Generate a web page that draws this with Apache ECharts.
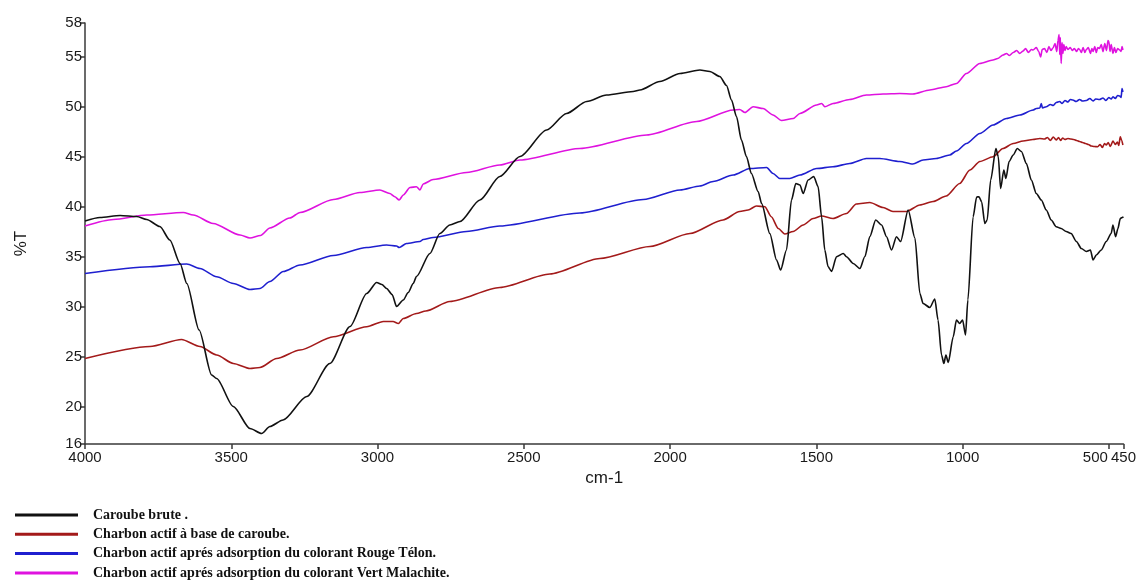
<!DOCTYPE html>
<html>
<head>
<meta charset="utf-8">
<title>Spectres IR</title>
<script src="https://cdn.jsdelivr.net/npm/echarts@6/dist/echarts.min.js"></script>
<style>
  html, body { margin: 0; padding: 0; background: #fff; }
  #chart { width: 1139px; height: 582px; }
</style>
</head>
<body>
<div id="chart"></div>
<script>
// Wavenumber (cm-1) / transmittance (%T) pairs for each sample
const seriesNames = [
  'Caroube brute .',
  'Charbon actif à base de caroube.',
  'Charbon actif aprés adsorption du colorant Rouge Télon.',
  'Charbon actif aprés adsorption du colorant Vert Malachite.'
];
const seriesColors = ['#111111', '#a31a1a', '#1f1fcf', '#df12df'];

const caroubeBrute = [
  [4000, 38.55], [3949, 38.9], [3880, 39.1], [3823, 39.0], [3789, 38.7], [3744, 38.0],
  [3710, 36.65], [3675, 34.3], [3652, 32.3], [3610, 27.65], [3567, 23.15], [3550, 22.8],
  [3493, 20.0], [3436, 17.8], [3396, 17.3], [3368, 18.0], [3323, 18.65], [3242, 21.0],
  [3163, 24.3], [3094, 28.0], [3037, 31.3], [3003, 32.4], [2985, 32.2], [2969, 31.8],
  [2950, 31.2], [2935, 30.0], [2912, 30.65], [2895, 31.4], [2878, 32.3], [2867, 33.0],
  [2821, 35.3], [2787, 37.3], [2753, 38.15], [2718, 38.5], [2650, 40.65], [2582, 43.0],
  [2513, 45.0], [2422, 47.65], [2354, 49.3], [2285, 50.5], [2217, 51.15], [2126, 51.5],
  [2103, 51.65], [2035, 52.5], [1966, 53.3], [1898, 53.65], [1864, 53.5], [1830, 53.0],
  [1807, 52.1], [1790, 50.65], [1773, 49.0], [1756, 46.65], [1739, 45.0], [1722, 43.3],
  [1699, 41.5], [1687, 40.3], [1659, 37.3], [1636, 34.65], [1622, 33.65], [1602, 35.65],
  [1585, 40.65], [1570, 42.3], [1556, 42.15], [1545, 41.3], [1528, 42.65], [1509, 43.0],
  [1494, 42.0], [1482, 38.98], [1471, 35.65], [1460, 34.0], [1448, 33.5], [1431, 34.98],
  [1408, 35.3], [1397, 34.98], [1374, 34.3], [1351, 33.8], [1334, 35.0], [1317, 37.0],
  [1297, 38.65], [1277, 38.15], [1260, 36.98], [1243, 35.65], [1226, 36.98], [1212, 36.5],
  [1186, 39.65], [1163, 36.85], [1146, 31.3], [1135, 30.3], [1112, 29.9], [1095, 30.75],
  [1084, 28.65], [1072, 25.15], [1064, 24.3], [1057, 25.15], [1049, 24.4], [1032, 26.98],
  [1021, 28.65], [1010, 28.3], [1000, 28.65], [990, 27.15], [982, 30.65], [964, 38.98],
  [952, 40.95], [944, 40.98], [935, 40.48], [924, 38.3], [916, 38.65], [904, 42.65],
  [886, 45.8], [878, 44.98], [870, 41.8], [859, 43.65], [852, 42.8], [841, 44.5],
  [827, 45.15], [813, 45.8], [799, 45.5], [782, 44.3], [765, 42.65], [748, 41.3],
  [731, 40.65], [714, 39.65], [697, 38.65], [680, 37.98], [663, 37.8], [646, 37.5],
  [629, 37.3], [611, 36.5], [594, 35.8], [577, 35.5], [563, 35.65], [554, 34.65],
  [543, 35.15], [526, 35.65], [509, 36.5], [492, 37.3], [486, 38.15], [477, 36.98],
  [469, 37.8], [461, 38.8], [455, 38.9], [450, 38.95]
];

const charbonActif = [
  [4000, 24.8], [3778, 26.0], [3670, 26.7], [3607, 26.0], [3550, 25.15], [3493, 24.3],
  [3436, 23.8], [3402, 23.9], [3345, 24.8], [3265, 25.65], [3151, 26.98], [3037, 27.98],
  [2980, 28.5], [2947, 28.5], [2929, 28.3], [2912, 28.8], [2867, 29.3], [2835, 29.55],
  [2753, 30.5], [2582, 31.9], [2411, 33.25], [2240, 34.8], [2069, 36.0], [1932, 37.3],
  [1819, 38.65], [1762, 39.5], [1733, 39.65], [1705, 40.05], [1676, 39.98], [1654, 38.98],
  [1630, 37.8], [1608, 37.25], [1579, 37.5], [1545, 38.15], [1511, 38.8], [1482, 39.05],
  [1443, 38.8], [1397, 39.3], [1363, 40.25], [1317, 40.4], [1272, 39.9], [1238, 39.5],
  [1192, 39.5], [1146, 40.15], [1101, 40.5], [1056, 41.05], [1010, 42.3], [975, 43.65],
  [941, 44.5], [896, 44.98], [862, 45.8], [827, 46.3], [793, 46.55], [760, 46.7],
  [736, 46.8], [720, 46.75], [710, 46.9], [700, 46.6], [690, 46.95], [680, 46.65],
  [672, 46.9], [665, 46.6], [658, 46.85], [650, 46.7], [640, 46.8], [630, 46.75],
  [620, 46.7], [610, 46.6], [600, 46.5], [590, 46.4], [580, 46.3], [570, 46.2],
  [560, 46.05], [550, 46.0], [538, 45.98], [530, 46.2], [522, 45.9], [515, 46.3],
  [509, 46.15], [502, 46.4], [495, 46.0], [486, 46.55], [478, 46.2], [471, 46.45],
  [466, 46.1], [461, 46.98], [456, 46.6], [452, 46.15]
];

const rougeTelon = [
  [4000, 33.3], [3778, 33.98], [3652, 34.25], [3607, 33.8], [3550, 32.98], [3493, 32.3],
  [3436, 31.7], [3402, 31.8], [3368, 32.5], [3322, 33.5], [3265, 34.15], [3151, 35.1],
  [3037, 35.9], [2969, 36.15], [2935, 36.05], [2926, 35.9], [2901, 36.3], [2855, 36.5],
  [2844, 36.7], [2810, 36.9], [2696, 37.5], [2582, 38.05], [2308, 39.35], [2092, 40.7],
  [1966, 41.65], [1898, 42.05], [1853, 42.5], [1784, 43.15], [1727, 43.8], [1670, 43.9],
  [1648, 43.3], [1625, 42.8], [1591, 42.8], [1556, 43.15], [1499, 43.8], [1443, 43.98],
  [1386, 44.3], [1329, 44.8], [1283, 44.8], [1215, 44.5], [1170, 44.25], [1135, 44.65],
  [1090, 44.8], [1044, 45.15], [1021, 45.55], [987, 46.3], [941, 47.3], [896, 48.15],
  [850, 48.8], [804, 49.15], [759, 49.65], [748, 49.8], [736, 49.85], [731, 50.3],
  [727, 49.85], [714, 49.98], [700, 50.2], [690, 50.1], [680, 50.4], [668, 50.5],
  [660, 50.3], [650, 50.6], [640, 50.45], [632, 50.7], [623, 50.65], [612, 50.5],
  [600, 50.7], [590, 50.55], [577, 50.6], [565, 50.8], [554, 50.55], [545, 50.75],
  [532, 50.7], [520, 50.85], [510, 50.6], [500, 50.9], [492, 50.75], [486, 50.98],
  [478, 50.8], [470, 51.1], [463, 51.05], [458, 50.9], [455, 51.8], [452, 51.45]
];

const vertMalachite = [
  [4000, 38.05], [3903, 38.7], [3789, 39.15], [3664, 39.4], [3630, 39.15], [3562, 38.3],
  [3470, 37.15], [3436, 36.85], [3400, 37.1], [3368, 37.85], [3300, 38.85], [3265, 39.4],
  [3151, 40.7], [3060, 41.4], [2992, 41.65], [2958, 41.3], [2941, 40.98], [2926, 40.65],
  [2912, 41.15], [2889, 41.9], [2867, 41.98], [2855, 41.65], [2844, 42.25], [2810, 42.7],
  [2696, 43.4], [2582, 44.15], [2513, 44.65], [2308, 45.8], [2080, 47.15], [1909, 48.5],
  [1784, 49.65], [1762, 49.7], [1744, 49.4], [1716, 49.98], [1682, 49.8], [1648, 49.15],
  [1619, 48.6], [1579, 48.8], [1556, 49.3], [1499, 50.15], [1482, 50.3], [1471, 49.98],
  [1443, 50.3], [1386, 50.7], [1329, 51.15], [1272, 51.25], [1215, 51.3], [1170, 51.25],
  [1112, 51.65], [1056, 51.98], [1021, 52.3], [987, 53.3], [941, 54.3], [896, 54.65],
  [880, 54.8], [862, 55.15], [850, 55.3], [840, 55.1], [827, 55.4], [815, 55.6],
  [805, 55.3], [793, 55.55], [785, 55.8], [775, 55.4], [765, 55.7], [759, 55.65],
  [748, 55.9], [740, 55.5], [733, 54.95], [728, 55.7], [720, 55.8], [712, 55.4],
  [705, 56.0], [698, 55.6], [691, 55.85], [684, 56.3], [678, 55.5], [674, 56.6],
  [670, 57.2], [668, 55.2], [666, 56.9], [663, 54.3], [660, 56.4], [657, 55.3],
  [654, 56.2], [650, 55.6], [646, 56.0], [640, 55.7], [632, 55.9], [625, 55.6],
  [618, 55.8], [610, 55.5], [604, 55.8], [600, 55.7], [594, 55.4], [588, 55.9],
  [582, 55.4], [577, 55.7], [570, 55.9], [563, 55.3], [558, 55.8], [554, 55.5],
  [548, 56.0], [543, 55.4], [538, 55.9], [532, 55.8], [526, 56.2], [520, 55.5],
  [514, 56.3], [508, 55.6], [503, 56.6], [500, 56.5], [496, 55.5], [492, 56.2],
  [486, 55.3], [481, 55.9], [476, 55.4], [470, 55.8], [463, 55.65], [458, 55.5],
  [455, 56.0], [452, 55.65]
];

// Axis ticks: the end ticks sit at the axis limits and are labelled rounded
const xTicks = [4000, 3500, 3000, 2500, 2000, 1500, 1000, 500, 450];
const yTicks = [16.25, 20, 25, 30, 35, 40, 45, 50, 55, 58.35];

const chart = echarts.init(document.getElementById('chart'), null, { renderer: 'canvas' });

const axisFont = { fontFamily: 'Liberation Sans', fontSize: 15, color: '#1a1a1a' };
const axisLineStyle = { color: '#3a3a3a', width: 1.5 };

const allData = [caroubeBrute, charbonActif, rougeTelon, vertMalachite];

chart.setOption({
  backgroundColor: '#ffffff',
  animation: false,
  grid: { left: 85, right: 15, top: 23, bottom: 138, containLabel: false },
  legend: {
    orient: 'vertical',
    left: 15,
    top: 508,
    padding: 0,
    icon: 'rect',
    itemWidth: 63,
    itemHeight: 3,
    itemGap: 5.3,
    textStyle: {
      fontFamily: 'Liberation Serif',
      fontWeight: 'bold',
      fontSize: 14,
      lineHeight: 14,
      color: '#111',
      padding: [0, 0, 0, 10]
    },
    data: seriesNames
  },
  xAxis: {
    type: 'value',
    inverse: true,
    min: 450,
    max: 4000,
    name: 'cm-1',
    nameLocation: 'middle',
    nameGap: 26,
    nameTextStyle: { fontFamily: 'Liberation Sans', fontSize: 17, color: '#1a1a1a' },
    axisLine: { show: true, lineStyle: axisLineStyle },
    axisTick: { show: true, length: 5, lineStyle: axisLineStyle, customValues: xTicks },
    axisLabel: {
      ...axisFont,
      margin: 6,
      customValues: xTicks,
      formatter: v => (v === 500 ? '{l|500}' : String(v)),
      rich: { l: { ...axisFont, padding: [0, 27, 0, 0] } }
    },
    splitLine: { show: false }
  },
  yAxis: {
    type: 'value',
    min: 16.25,
    max: 58.35,
    name: '%T',
    nameLocation: 'middle',
    nameGap: 55,
    nameTextStyle: {
      fontFamily: 'Liberation Sans',
      fontSize: 17,
      color: '#1a1a1a',
      padding: [0, 20, 0, 0]
    },
    axisLine: { show: true, lineStyle: axisLineStyle },
    axisTick: { show: true, length: 5, lineStyle: axisLineStyle, customValues: yTicks },
    axisLabel: {
      ...axisFont,
      margin: 3,
      customValues: yTicks,
      formatter: v => String(Math.round(v))
    },
    splitLine: { show: false }
  },
  series: seriesNames.map((name, i) => ({
    name,
    type: 'line',
    data: allData[i],
    symbol: 'none',
    smooth: 0.25,
    smoothMonotone: 'x',
    color: seriesColors[i],
    lineStyle: { color: seriesColors[i], width: 1.6 },
    z: 4 - i
  }))
});
</script>
</body>
</html>
